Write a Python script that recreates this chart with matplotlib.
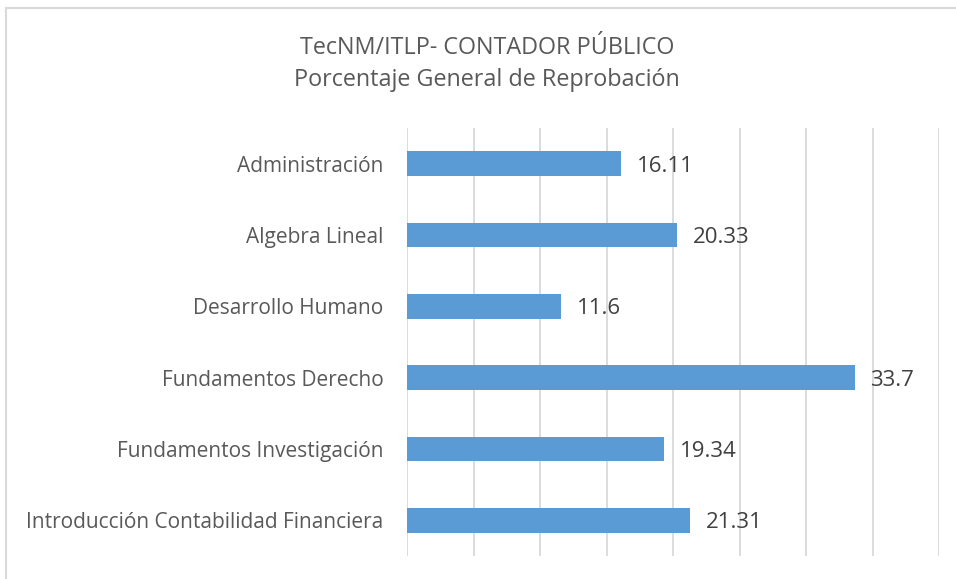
import numpy as np
import matplotlib
matplotlib.use('Agg')
import matplotlib.pyplot as plt
from matplotlib.lines import Line2D

plt.rcParams['font.family'] = ['Open Sans', 'DejaVu Sans']

materias = [
    'Administración',
    'Algebra Lineal',
    'Desarrollo Humano',
    'Fundamentos Derecho',
    'Fundamentos Investigación',
    'Introducción Contabilidad Financiera',
]
reprobacion = [16.11, 20.33, 11.6, 33.7, 19.34, 21.31]
etiquetas = ['16.11', '20.33', '11.6', '33.7', '19.34', '21.31']

W, H = 956, 579
fig = plt.figure(figsize=(W / 100, H / 100), dpi=100)
ax = fig.add_axes([407 / W, 1 - 556 / H, (939 - 407) / W, (556 - 128) / H])

y = np.arange(len(materias))
ax.barh(y, reprobacion, height=0.35, color='#5B9BD5', zorder=3)
ax.set_ylim(len(materias) - 0.5, -0.5)
ax.set_xlim(0, 40)
ax.set_xticks(np.arange(0, 41, 5))
ax.set_xticklabels([])
ax.set_yticks(y)
ax.set_yticklabels(materias, fontsize=15, color='#595959', va='center_baseline')
ax.tick_params(length=0, pad=17)
ax.xaxis.grid(True, color='#D9D9D9', linewidth=1.3, zorder=0)
for s in ax.spines.values():
    s.set_visible(False)

for yi, v, t in zip(y, reprobacion, etiquetas):
    ax.annotate(t, (v, yi), xytext=(11, 0), textcoords='offset points',
                va='center_baseline', ha='left', fontsize=16, color='#404040')

fig.text(487 / W, 1 - 48 / H, 'TecNM/ITLP- CONTADOR PÚBLICO', ha='center', va='center',
         fontsize=16.8, color='#595959')
fig.text(487 / W, 1 - 80 / H, 'Porcentaje General de Reprobación', ha='center', va='center',
         fontsize=16.8, color='#595959')

# chart border (left and top edges visible)
fig.add_artist(Line2D([6 / W, 6 / W], [0, 1 - 8 / H], color='#D9D9D9', linewidth=1.5,
                      transform=fig.transFigure))
fig.add_artist(Line2D([6 / W, 1], [1 - 8 / H, 1 - 8 / H], color='#D9D9D9', linewidth=1.5,
                      transform=fig.transFigure))

fig.savefig('out.png', dpi=100, facecolor='white')
